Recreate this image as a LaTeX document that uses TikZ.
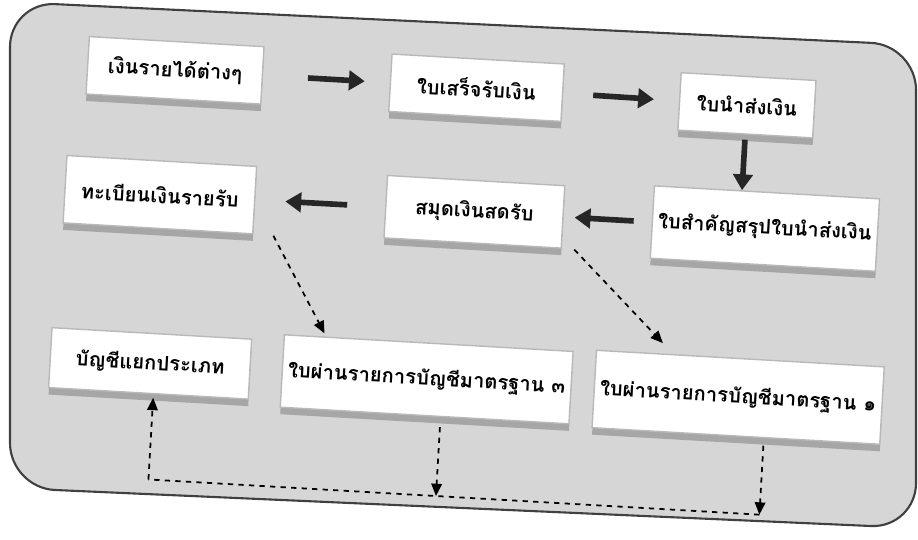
\documentclass[tikz,border=0pt]{standalone}
\usepackage{fontspec}
\newfontfamily\thaifont[Script=Thai]{Loma}
\usetikzlibrary{arrows.meta,shadows}

\begin{document}
\begin{tikzpicture}[x=0.02cm,y=-0.02cm,
    main node/.style={draw=gray!55,line width=0.8pt,fill=white,minimum height=1.15cm,
        font=\thaifont\bfseries\fontsize{11.5}{14}\selectfont,
        drop shadow={shadow xshift=0pt,shadow yshift=-4pt,fill=gray!70,opacity=1}},
    flow/.style={-{Triangle[length=9pt,width=11pt]},line width=3.2pt,black!85},
    link/.style={-{Triangle[length=7pt,width=6pt]},dashed,line width=1pt}]
    \useasboundingbox (0,0) rectangle (918,540);
    % scanned frame
    \filldraw[fill=gray!32,draw=gray!50!black,line width=1.2pt,rounded corners=0.9cm]
        (10,2) -- (916,45) -- (916,528) -- (10,488) -- cycle;
    \begin{scope}[rotate around={-3.3:(459,270)},transform shape]
        \node[main node,minimum width=3.5cm] (b1) at (164,87) {เงินรายได้ต่างๆ};
        \node[main node,minimum width=3.45cm] (b2) at (466,87) {ใบเสร็จรับเงิน};
        \node[main node,minimum width=2.7cm] (b3) at (737,89) {ใบนำส่งเงิน};
        \node[main node,minimum width=4.45cm,minimum height=1.45cm] (b4) at (762,211) {ใบสำคัญสรุปใบนำส่งเงิน};
        \node[main node,minimum width=3.55cm,minimum height=1.25cm] (b5) at (471,211) {สมุดเงินสดรับ};
        \node[main node,minimum width=3.8cm,minimum height=1.35cm] (b6) at (156,212) {ทะเบียนเงินรายรับ};
        \node[main node,minimum width=4cm,minimum height=1.2cm] (b7) at (156,381) {บัญชีแยกประเภท};
        \node[main node,minimum width=5.7cm,minimum height=1.45cm] (b8) at (433,381) {ใบผ่านรายการบัญชีมาตรฐาน ๓};
        \node[main node,minimum width=5.65cm,minimum height=1.55cm] (b9) at (745,381) {ใบผ่านรายการบัญชีมาตรฐาน ๑};
        % solid flow
        \draw[flow,shorten <=0.9cm,shorten >=0.5cm] (b1) -- (b2);
        \draw[flow,shorten <=0.6cm,shorten >=0.5cm] (b2) -- (b3);
        \draw[flow,shorten <=0.1cm] (b3.south) -- (b3.south |- b4.north);
        \draw[flow,shorten <=0.36cm,shorten >=0.22cm] (b4) -- (b5);
        \draw[flow,shorten <=0.76cm,shorten >=0.6cm] (b5) -- (b6);
        % dashed posting
        \coordinate (j7) at (161,497);
        \coordinate (j8) at (449,497);
        \coordinate (j9) at (773,497);
        \draw[link,shorten >=2pt] ([xshift=0.4cm]b6.south east) -- ([xshift=0.85cm]b8.north west);
        \draw[link,shorten >=0.3cm] ([xshift=0.25cm]b5.south east) -- ([xshift=1.55cm]b9.north west);
        \draw[link,shorten <=0.2cm] (b8.south -| j8) -- (j8);
        \draw[link,shorten <=0.15cm] (b9.south -| j9) -- (j9);
        \draw[dashed,line width=1pt] (j9) -- (j7);
        \draw[link,shorten >=2pt] (j7) -- (b7.south -| j7);
    \end{scope}
\end{tikzpicture}
\end{document}
